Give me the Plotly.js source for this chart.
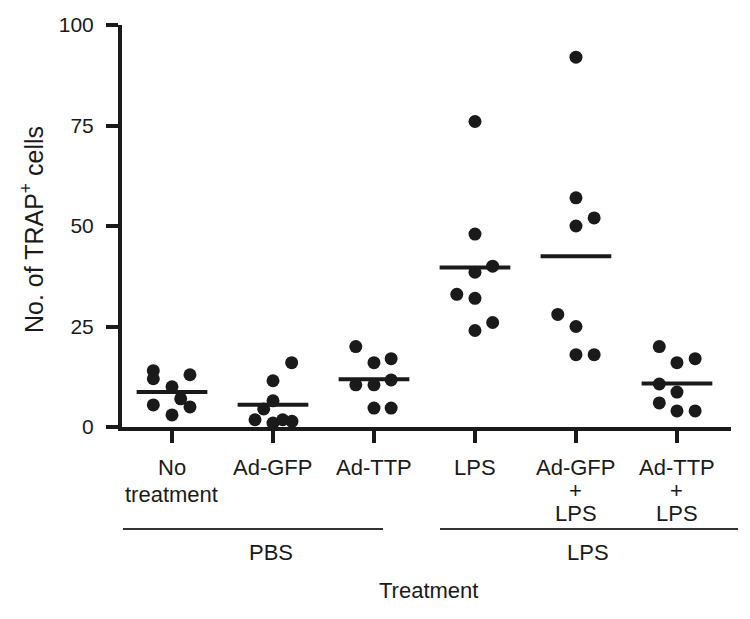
<!DOCTYPE html>
<html>
<head>
<meta charset="utf-8">
<script src="https://cdn.plot.ly/plotly-3.0.1.min.js"></script>
<style>html,body{margin:0;padding:0;background:#fff;}#chart{width:750px;height:619px;}</style>
</head>
<body>
<div id="chart"></div>
<script>
// ---- data ----
const categories = ["No<br>treatment", "Ad-GFP", "Ad-TTP", "LPS", "Ad-GFP<br>+<br>LPS", "Ad-TTP<br>+<br>LPS"];
const noTreatment = [14, 12, 13, 10, 7, 5.5, 5, 3];
const adGFP       = [16, 11.5, 6.5, 4.5, 1.8, 1, 1.8, 1.4];
const adTTP       = [20, 16, 17, 10.5, 10.5, 11.7, 4.7, 4.7];
const lps         = [76, 48, 40, 38.5, 33, 32, 26, 24];
const adGFPLPS    = [92, 57, 52, 50, 28, 25, 18, 18];
const adTTPLPS    = [20, 16, 17, 10.7, 8.7, 6, 4, 4];
const yTicks = [0, 25, 50, 75, 100];
const groupLabels = ["PBS", "LPS"];
const xTitle = "Treatment";
const yTitle = "No. of TRAP<sup>+</sup> cells";

// ---- layout helpers (horizontal spread of points within each column) ----
const jitter = [
  [-0.185, -0.185, 0.178, 0, 0.086, -0.185, 0.178, 0],
  [0.185, 0, 0, -0.092, -0.178, 0, 0.096, 0.188],
  [-0.18, 0, 0.17, -0.18, 0, 0.17, 0, 0.17],
  [0, 0, 0.175, 0, -0.18, 0, 0.175, 0],
  [0, 0, 0.18, 0, -0.18, 0, 0, 0.18],
  [-0.175, 0, 0.18, -0.175, 0, -0.175, 0, 0.18]
];
const groups = [noTreatment, adGFP, adTTP, lps, adGFPLPS, adTTPLPS];
const ink = "#1a1a1a";
const font = "Liberation Sans, Arial, Helvetica, sans-serif";

const traces = [];
groups.forEach((vals, gi) => {
  traces.push({
    type: "scatter", mode: "markers",
    x: vals.map((v, i) => gi + jitter[gi][i]),
    y: vals,
    marker: {size: 13, color: ink},
    hoverinfo: "y", showlegend: false
  });
  const mean = vals.reduce((a, b) => a + b, 0) / vals.length;
  traces.push({
    type: "scatter", mode: "lines",
    x: [gi - 0.35, gi + 0.35], y: [mean, mean],
    line: {color: ink, width: 4},
    hoverinfo: "skip", showlegend: false
  });
});

const L = 122, R = 19, T = 25, B = 192, W = 750, H = 619;
const pw = W - L - R, ph = H - T - B;
const px = v => (v - L) / pw;           // pixel -> paper x
const py = v => (H - B - v) / ph;       // pixel -> paper y

const f22 = {family: font, size: 22, color: ink};
const annotations = [];
categories.forEach((label, ci) => {
  const lines = label.split("<br>");
  const step = lines.length === 2 ? 28 : 23;
  lines.forEach((ln, li) => {
    annotations.push({text: ln, xref: "x", yref: "paper", x: ci, y: py(467 + li * step),
      showarrow: false, xanchor: "center", yanchor: "middle", font: f22});
  });
});
annotations.push(
  {text: groupLabels[0], xref: "paper", yref: "paper", x: px(271), y: py(552), showarrow: false, xanchor: "center", yanchor: "middle", font: f22},
  {text: groupLabels[1], xref: "paper", yref: "paper", x: px(588), y: py(552), showarrow: false, xanchor: "center", yanchor: "middle", font: f22},
  {text: xTitle, xref: "paper", yref: "paper", x: px(428), y: py(590), showarrow: false, xanchor: "center", yanchor: "middle", font: f22},
  {text: yTitle, xref: "paper", yref: "paper", x: px(32), y: py(229), textangle: -90, showarrow: false, xanchor: "center", yanchor: "middle", font: {family: font, size: 25, color: ink}}
);

const layout = {
  width: W, height: H,
  margin: {l: L, r: R, t: T, b: B},
  paper_bgcolor: "#fff", plot_bgcolor: "#fff",
  font: {family: font, size: 21, color: ink},
  showlegend: false,
  xaxis: {
    range: [-0.495, 5.535],
    tickvals: categories.map((c, i) => i),
    showticklabels: false,
    showgrid: false, zeroline: false,
    showline: true, linecolor: ink, linewidth: 4,
    ticks: "outside", ticklen: 12, tickwidth: 4, tickcolor: ink
  },
  yaxis: {
    range: [0, 100],
    tickvals: yTicks,
    showgrid: false, zeroline: false,
    showline: true, linecolor: ink, linewidth: 4,
    ticks: "outside", ticklen: 12, tickwidth: 4, tickcolor: ink,
    ticklabelstandoff: 8,
    tickfont: {family: font, size: 21, color: ink}
  },
  shapes: [
    {type: "line", xref: "paper", yref: "paper", x0: px(123), x1: px(383), y0: py(529), y1: py(529), line: {color: "#333", width: 2}},
    {type: "line", xref: "paper", yref: "paper", x0: px(440), x1: px(738), y0: py(529), y1: py(529), line: {color: "#333", width: 2}}
  ],
  annotations: annotations
};

Plotly.newPlot("chart", traces, layout, {staticPlot: true, displayModeBar: false});
</script>
</body>
</html>
